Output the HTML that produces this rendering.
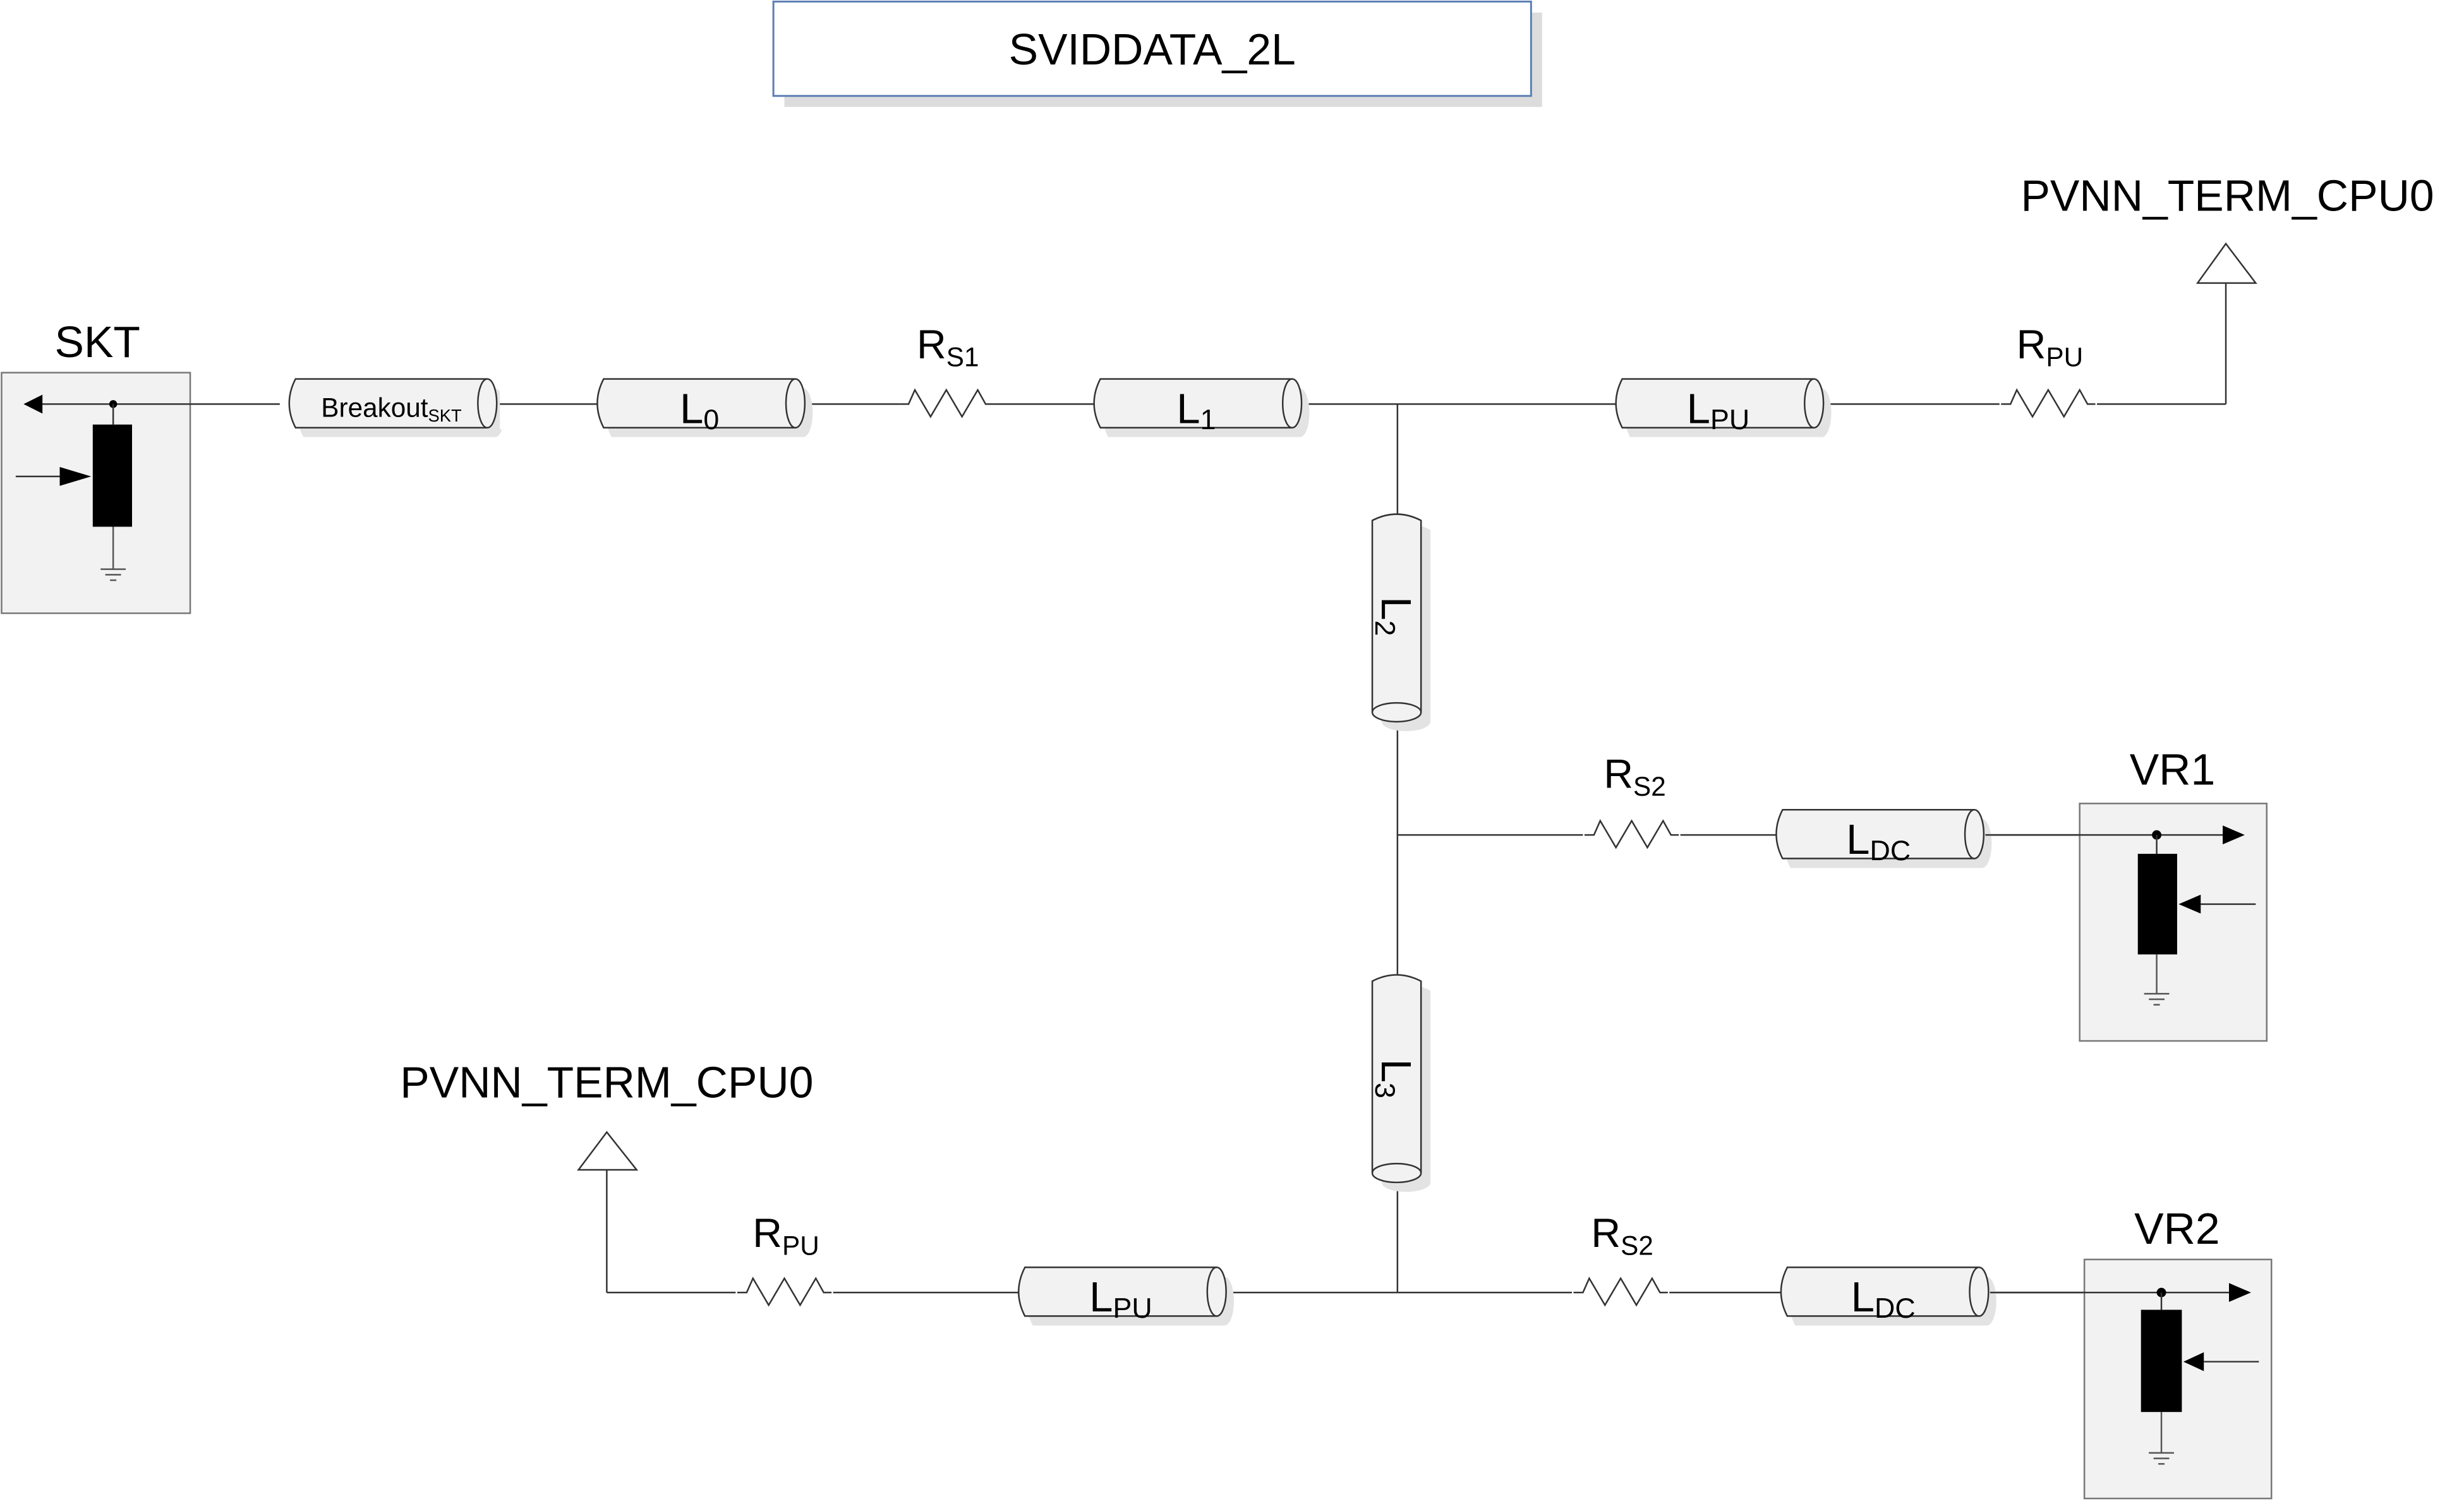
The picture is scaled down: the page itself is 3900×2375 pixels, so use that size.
<!DOCTYPE html>
<html><head><meta charset="utf-8"><style>
html,body{margin:0;padding:0;background:#fff;}
svg{display:block;}
text{font-family:"Liberation Sans",sans-serif;fill:#000;}
</style></head><body>
<svg width="3900" height="2375" viewBox="0 0 1567.5 954.6" preserveAspectRatio="none" xmlns="http://www.w3.org/2000/svg">
<defs>
<g id="cyl">
<path d="M8,0 H130 A6,15.5 0 0 1 130,31 H8 Q0,15.5 8,0 Z" fill="#f2f2f2" stroke="#333" stroke-width="1"/>
<path d="M130,0 A6,15.5 0 0 0 130,31" fill="none" stroke="#333" stroke-width="1"/>
</g>
<g id="cylsh">
<path d="M8,0 H130 A6,15.5 0 0 1 130,31 H8 Q0,15.5 8,0 Z" fill="#e3e3e3"/>
</g>
<polyline id="res" points="0,0 6,0 10,-9 20,8 30,-9 40,8 50,-9 55,0 60,0" fill="none" stroke="#333" stroke-width="1"/>
<g id="gnd" stroke="#555" stroke-width="1">
<line x1="-8" y1="0" x2="8" y2="0"/><line x1="-5" y1="3.5" x2="5" y2="3.5"/><line x1="-2" y1="7" x2="2" y2="7"/>
</g>
</defs>

<!-- title -->
<rect x="499" y="8" width="482" height="60" fill="#dcdcdc"/>
<rect x="492" y="1" width="482" height="60" fill="#fff" stroke="#5b7fb5" stroke-width="1.2"/>
<text x="733" y="41" font-size="28" text-anchor="middle">SVIDDATA_2L</text>

<!-- SKT -->
<text x="62" y="227" font-size="28" text-anchor="middle">SKT</text>
<rect x="1" y="237" width="120" height="153" fill="#f2f2f2" stroke="#777" stroke-width="1"/>
<line x1="26" y1="257" x2="121" y2="257" stroke="#333"/>
<polygon points="15,257 27,251 27,263" fill="#000"/>
<circle cx="72" cy="257" r="2.5" fill="#000"/>
<line x1="72" y1="257" x2="72" y2="270" stroke="#333"/>
<rect x="59" y="270" width="25" height="65" fill="#000"/>
<line x1="10" y1="303" x2="40" y2="303" stroke="#333"/>
<polygon points="38,297 38,309 58,303" fill="#000"/>
<line x1="72" y1="335" x2="72" y2="362" stroke="#555"/>
<use href="#gnd" x="72" y="362"/>

<!-- main horizontal line -->
<line x1="121" y1="257" x2="1416" y2="257" stroke="#333" stroke-width="1"/>
<line x1="1416" y1="257" x2="1416" y2="180" stroke="#333" stroke-width="1"/>
<polygon points="1416,155 1398,180 1435,180" fill="#fff" stroke="#333" stroke-width="1"/>
<text x="1417" y="134" font-size="28" text-anchor="middle">PVNN_TERM_CPU0</text>

<!-- breakout -->
<rect x="178" y="241" width="150" height="32" fill="#fff"/>
<use href="#cylsh" x="185" y="247"/>
<use href="#cyl" x="180" y="241"/>
<text x="249" y="265" font-size="17" text-anchor="middle">Breakout<tspan font-size="11" dy="3">SKT</tspan></text>

<!-- L0 -->
<rect x="318" y="241" width="60" height="32" fill="#fff"/><line x1="318" y1="257" x2="378" y2="257" stroke="#333"/>
<use href="#cylsh" x="381" y="247"/><use href="#cyl" x="376" y="241"/>
<text x="445" y="269" font-size="27" text-anchor="middle">L<tspan font-size="18" dy="4">0</tspan></text>

<!-- RS1 -->
<rect x="572" y="245" width="60" height="24" fill="#fff"/>
<use href="#res" x="572" y="257"/>
<text x="603" y="228" font-size="26" text-anchor="middle">R<tspan font-size="17" dy="5">S1</tspan></text>

<!-- L1 -->
<use href="#cylsh" x="697" y="247"/><use href="#cyl" x="692" y="241"/>
<text x="761" y="269" font-size="27" text-anchor="middle">L<tspan font-size="18" dy="4">1</tspan></text>

<!-- LPU top -->
<use href="#cylsh" x="1029" y="247"/><use href="#cyl" x="1024" y="241"/>
<text x="1093" y="269" font-size="27" text-anchor="middle">L<tspan font-size="18" dy="4">PU</tspan></text>

<!-- RPU top -->
<rect x="1272" y="245" width="62" height="24" fill="#fff"/>
<use href="#res" x="1273" y="257"/>
<text x="1304" y="228" font-size="26" text-anchor="middle">R<tspan font-size="17" dy="5">PU</tspan></text>

<!-- vertical trunk -->
<line x1="889" y1="257" x2="889" y2="822" stroke="#333" stroke-width="1"/>
<!-- L2 -->
<g transform="translate(910,329) rotate(90)"><use href="#cylsh"/></g>
<g transform="translate(904,323) rotate(90)"><use href="#cyl"/></g>
<text transform="translate(879,392) rotate(90)" font-size="27" text-anchor="middle">L<tspan font-size="18" dy="4">2</tspan></text>
<!-- L3 -->
<g transform="translate(910,622) rotate(90)"><use href="#cylsh"/></g>
<g transform="translate(904,616) rotate(90)"><use href="#cyl"/></g>
<text transform="translate(879,686) rotate(90)" font-size="27" text-anchor="middle">L<tspan font-size="18" dy="4">3</tspan></text>

<!-- branch y=531 -->
<line x1="889" y1="531" x2="1372" y2="531" stroke="#333" stroke-width="1"/>
<rect x="1007" y="519" width="62" height="24" fill="#fff"/>
<use href="#res" x="1008" y="531"/>
<text x="1040" y="501" font-size="26" text-anchor="middle">R<tspan font-size="17" dy="5">S2</tspan></text>
<use href="#cylsh" x="1131" y="521"/><use href="#cyl" x="1126" y="515"/>
<text x="1195" y="543" font-size="27" text-anchor="middle">L<tspan font-size="18" dy="4">DC</tspan></text>

<!-- VR1 -->
<text x="1382" y="499" font-size="28" text-anchor="middle">VR1</text>
<rect x="1323" y="511" width="119" height="151" fill="#f2f2f2" stroke="#777" stroke-width="1"/>
<line x1="1263" y1="531" x2="1415" y2="531" stroke="#333"/>
<polygon points="1428,531 1414,525 1414,537" fill="#000"/>
<circle cx="1372" cy="531" r="3" fill="#000"/>
<line x1="1372" y1="531" x2="1372" y2="543" stroke="#333"/>
<rect x="1360" y="543" width="25" height="64" fill="#000"/>
<line x1="1400" y1="575" x2="1435" y2="575" stroke="#333"/>
<polygon points="1386,575 1400,569 1400,581" fill="#000"/>
<line x1="1372" y1="607" x2="1372" y2="632" stroke="#555"/>
<use href="#gnd" x="1372" y="632"/>

<!-- bottom line y=822 -->
<line x1="386" y1="822" x2="1375" y2="822" stroke="#333" stroke-width="1"/>
<line x1="386" y1="822" x2="386" y2="744" stroke="#333" stroke-width="1"/>
<polygon points="386,720 368,744 405,744" fill="#fff" stroke="#333" stroke-width="1"/>
<text x="386" y="698" font-size="28" text-anchor="middle">PVNN_TERM_CPU0</text>

<rect x="468" y="810" width="62" height="24" fill="#fff"/>
<use href="#res" x="469" y="822"/>
<text x="500" y="793" font-size="26" text-anchor="middle">R<tspan font-size="17" dy="5">PU</tspan></text>
<use href="#cylsh" x="649" y="812"/><use href="#cyl" x="644" y="806"/>
<text x="713" y="834" font-size="27" text-anchor="middle">L<tspan font-size="18" dy="4">PU</tspan></text>

<rect x="1000" y="810" width="62" height="24" fill="#fff"/>
<use href="#res" x="1001" y="822"/>
<text x="1032" y="793" font-size="26" text-anchor="middle">R<tspan font-size="17" dy="5">S2</tspan></text>
<use href="#cylsh" x="1134" y="812"/><use href="#cyl" x="1129" y="806"/>
<text x="1198" y="834" font-size="27" text-anchor="middle">L<tspan font-size="18" dy="4">DC</tspan></text>

<!-- VR2 -->
<text x="1385" y="791" font-size="28" text-anchor="middle">VR2</text>
<rect x="1326" y="801" width="119" height="152" fill="#f2f2f2" stroke="#777" stroke-width="1"/>
<line x1="1266" y1="822" x2="1418" y2="822" stroke="#333"/>
<polygon points="1432,822 1418,816 1418,828" fill="#000"/>
<circle cx="1375" cy="822" r="3" fill="#000"/>
<line x1="1375" y1="822" x2="1375" y2="833" stroke="#333"/>
<rect x="1362" y="833" width="26" height="65" fill="#000"/>
<line x1="1402" y1="866" x2="1437" y2="866" stroke="#333"/>
<polygon points="1389,866 1402,860 1402,872" fill="#000"/>
<line x1="1375" y1="898" x2="1375" y2="924" stroke="#555"/>
<use href="#gnd" x="1375" y="924"/>
</svg>
</body></html>
